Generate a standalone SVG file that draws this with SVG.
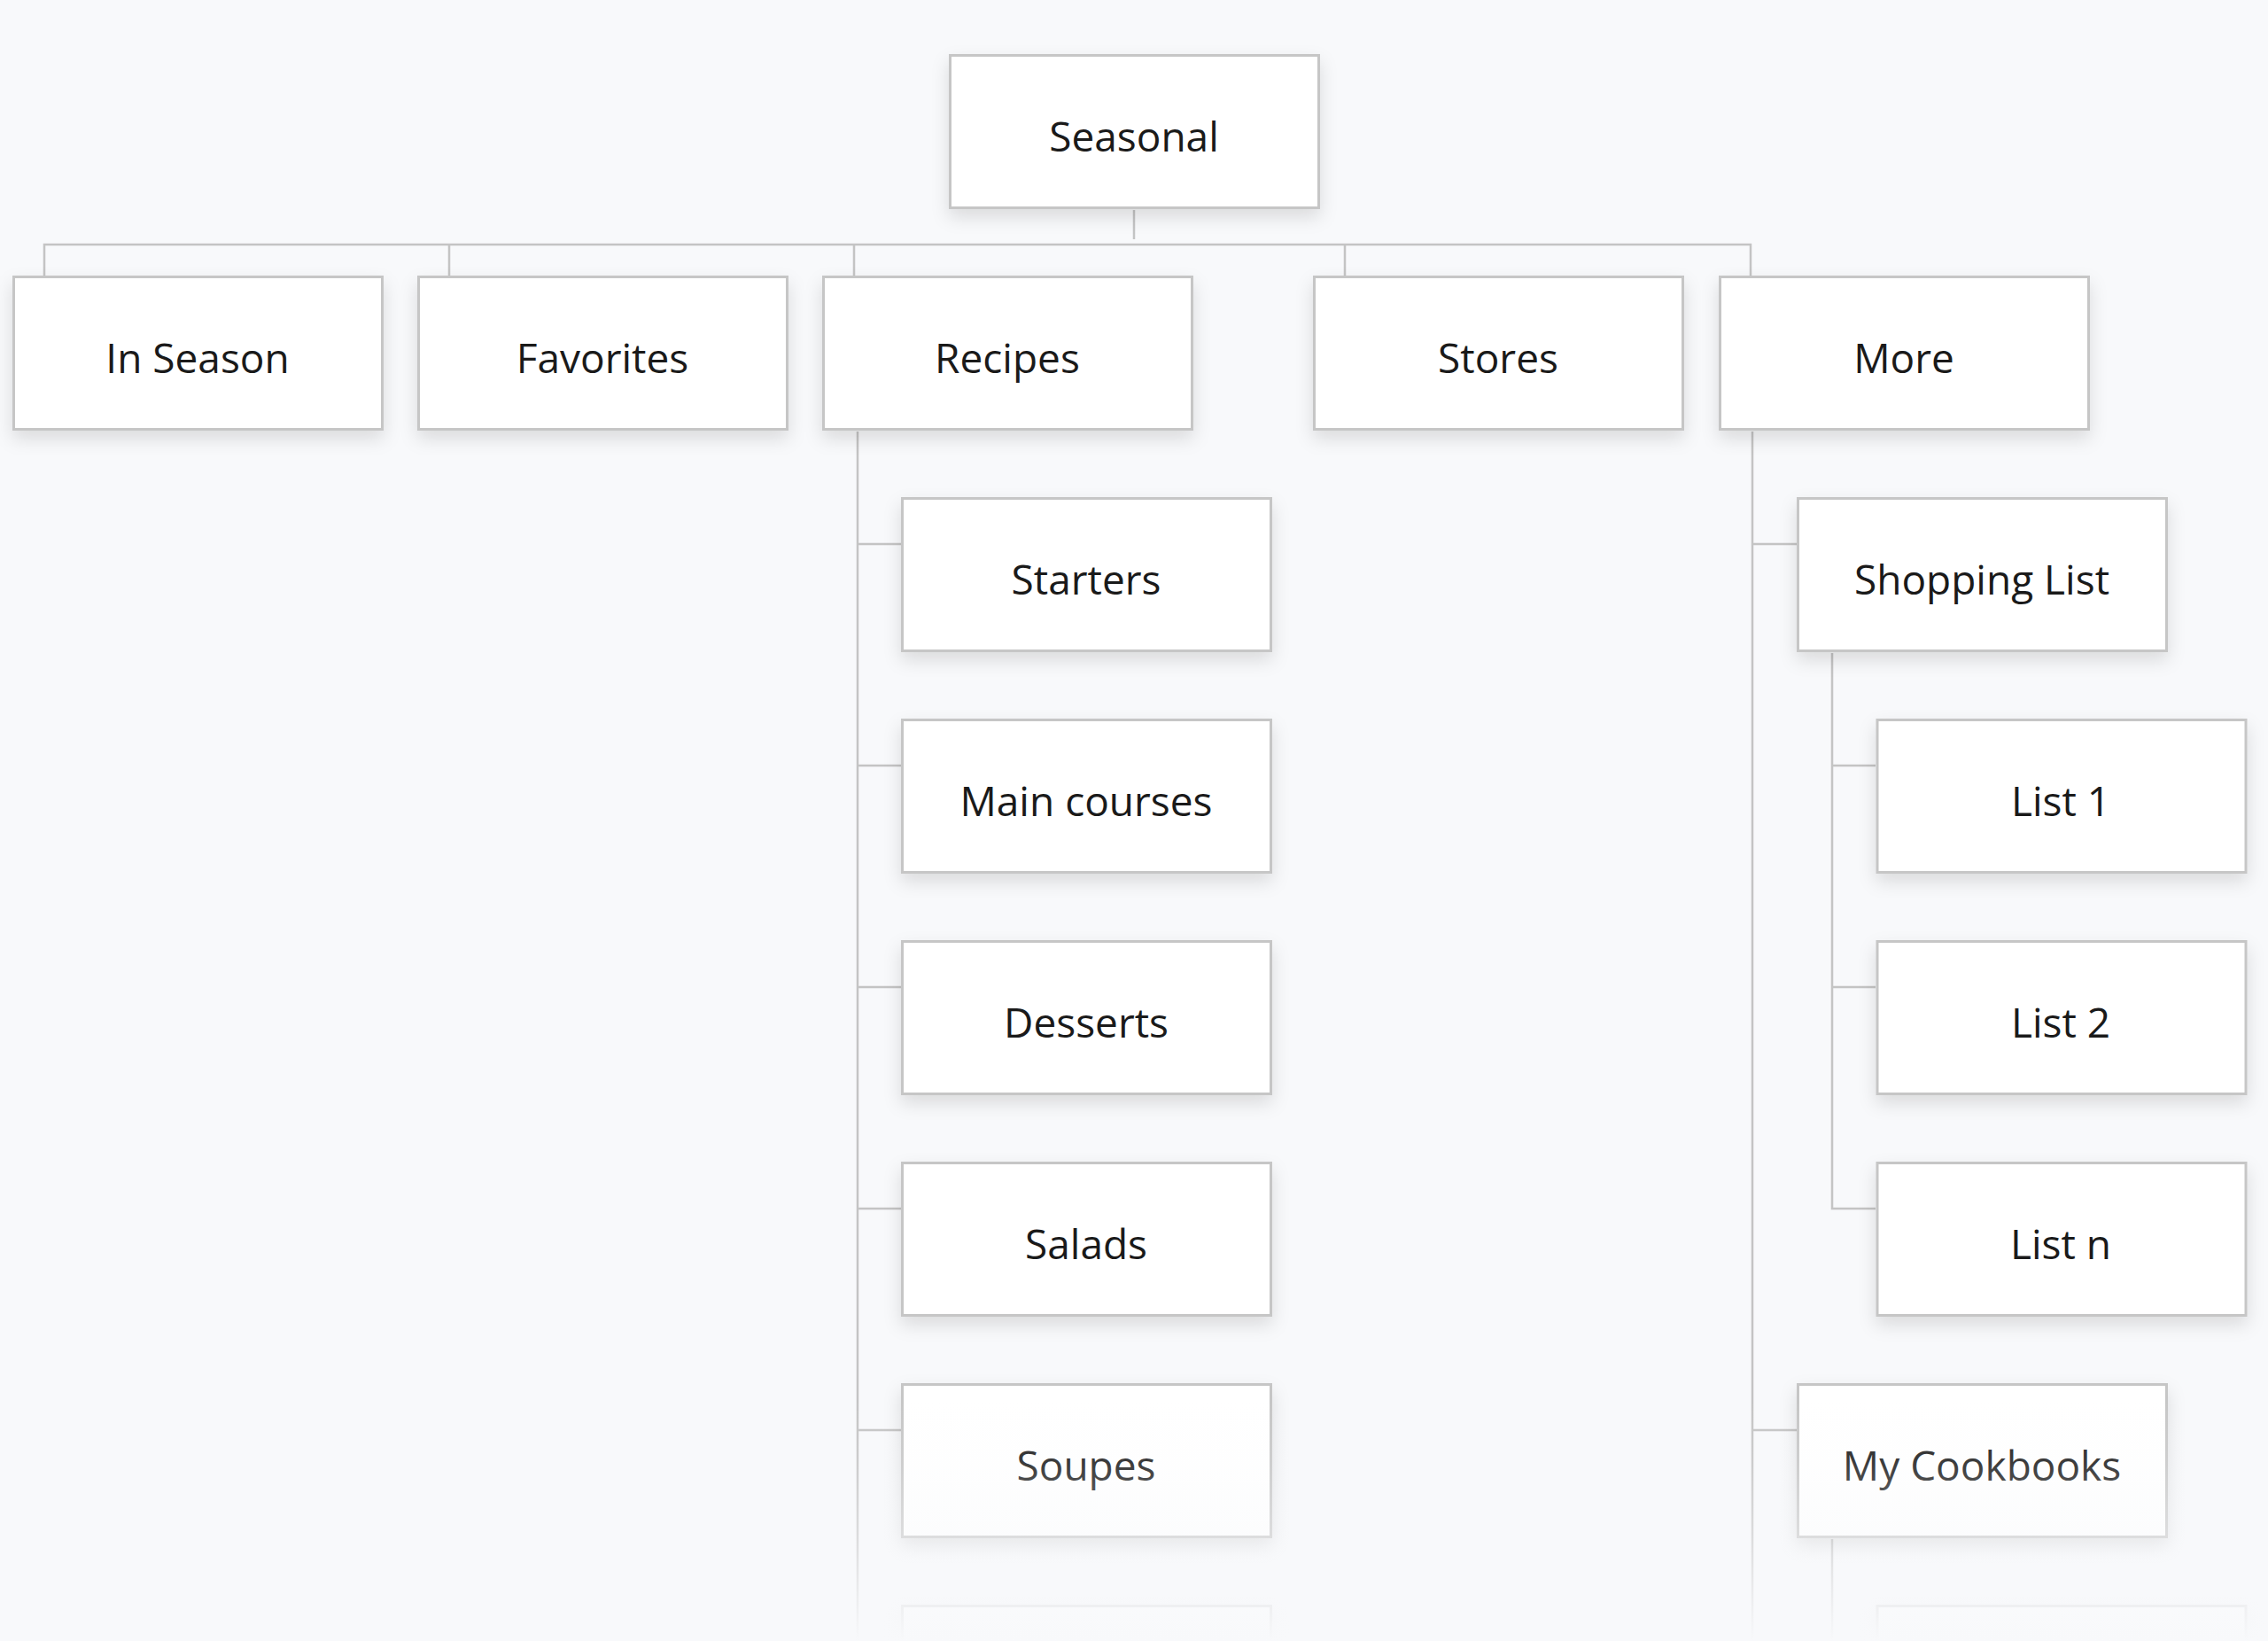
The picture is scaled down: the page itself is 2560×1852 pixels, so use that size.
<svg xmlns="http://www.w3.org/2000/svg" width="2560" height="1852" viewBox="0 0 2560 1852">
<defs>
<filter id="sh" x="-20%" y="-30%" width="140%" height="170%">
<feDropShadow dx="0" dy="9" stdDeviation="10" flood-color="#000" flood-opacity="0.12"/>
</filter>
<linearGradient id="fade" gradientUnits="userSpaceOnUse" x1="0" y1="1580" x2="0" y2="1852">
<stop offset="0" stop-color="#f8f9fb" stop-opacity="0"/>
<stop offset="0.26" stop-color="#f8f9fb" stop-opacity="0.15"/>
<stop offset="0.57" stop-color="#f8f9fb" stop-opacity="0.45"/>
<stop offset="0.84" stop-color="#f8f9fb" stop-opacity="0.8"/>
<stop offset="1" stop-color="#f8f9fb" stop-opacity="1"/>
</linearGradient>
</defs>
<style>
.box{fill:#ffffff;stroke:#c6c6c6;stroke-width:3;filter:url(#sh)}
.lbl{font-family:"Open Sans","Noto Sans","DejaVu Sans",sans-serif;font-size:46px;fill:#1a1a1a;text-anchor:middle}
.ln{fill:none;stroke:#c4c4c4;stroke-width:2.5}
</style>
<rect x="0" y="0" width="2560" height="1852" fill="#f8f9fb"/>
<g id="connectors">
<path class="ln" d="M1280 237 V270"/>
<path class="ln" d="M50 311 V276 H1976 V311"/>
<path class="ln" d="M507 276 V311 M964 276 V311 M1518 276 V311"/>
<path class="ln" d="M968 487 V1852 M968 614 H1017 M968 864 H1017 M968 1114 H1017 M968 1364 H1017 M968 1614 H1017"/>
<path class="ln" d="M1978 487 V1852 M1978 614 H2028 M1978 1614 H2028"/>
<path class="ln" d="M2068 737 V1364 H2117 M2068 864 H2117 M2068 1114 H2117"/>
<path class="ln" d="M2068 1737 V1852"/>
</g>
<g id="n-seasonal"><rect class="box" x="1072.5" y="62.5" width="416" height="172"/><text class="lbl" x="1280" y="171">Seasonal</text></g>
<g id="n-inseason"><rect class="box" x="15.5" y="312.5" width="416" height="172"/><text class="lbl" x="223" y="421">In Season</text></g>
<g id="n-favorites"><rect class="box" x="472.5" y="312.5" width="416" height="172"/><text class="lbl" x="680" y="421">Favorites</text></g>
<g id="n-recipes"><rect class="box" x="929.5" y="312.5" width="416" height="172"/><text class="lbl" x="1137" y="421">Recipes</text></g>
<g id="n-stores"><rect class="box" x="1483.5" y="312.5" width="416" height="172"/><text class="lbl" x="1691" y="421">Stores</text></g>
<g id="n-more"><rect class="box" x="1941.5" y="312.5" width="416" height="172"/><text class="lbl" x="2149" y="421">More</text></g>
<g id="n-starters"><rect class="box" x="1018.5" y="562.5" width="416" height="172"/><text class="lbl" x="1226" y="671">Starters</text></g>
<g id="n-main"><rect class="box" x="1018.5" y="812.5" width="416" height="172"/><text class="lbl" x="1226" y="921">Main courses</text></g>
<g id="n-desserts"><rect class="box" x="1018.5" y="1062.5" width="416" height="172"/><text class="lbl" x="1226" y="1171">Desserts</text></g>
<g id="n-salads"><rect class="box" x="1018.5" y="1312.5" width="416" height="172"/><text class="lbl" x="1226" y="1421">Salads</text></g>
<g id="n-soupes"><rect class="box" x="1018.5" y="1562.5" width="416" height="172"/><text class="lbl" x="1226" y="1671">Soupes</text></g>
<g id="n-recipes-next"><rect class="box" x="1018.5" y="1812.5" width="416" height="172"/></g>
<g id="n-shopping"><rect class="box" x="2029.5" y="562.5" width="416" height="172"/><text class="lbl" x="2237" y="671">Shopping List</text></g>
<g id="n-list1"><rect class="box" x="2119" y="812.5" width="416" height="172"/><text class="lbl" x="2326" y="921">List 1</text></g>
<g id="n-list2"><rect class="box" x="2119" y="1062.5" width="416" height="172"/><text class="lbl" x="2326" y="1171">List 2</text></g>
<g id="n-listn"><rect class="box" x="2119" y="1312.5" width="416" height="172"/><text class="lbl" x="2326" y="1421">List n</text></g>
<g id="n-cookbooks"><rect class="box" x="2029.5" y="1562.5" width="416" height="172"/><text class="lbl" x="2237" y="1671">My Cookbooks</text></g>
<g id="n-cookbooks-next"><rect class="box" x="2119" y="1812.5" width="416" height="172"/></g>
<rect id="fade-overlay" x="0" y="1580" width="2560" height="272" fill="url(#fade)"/>
</svg>
